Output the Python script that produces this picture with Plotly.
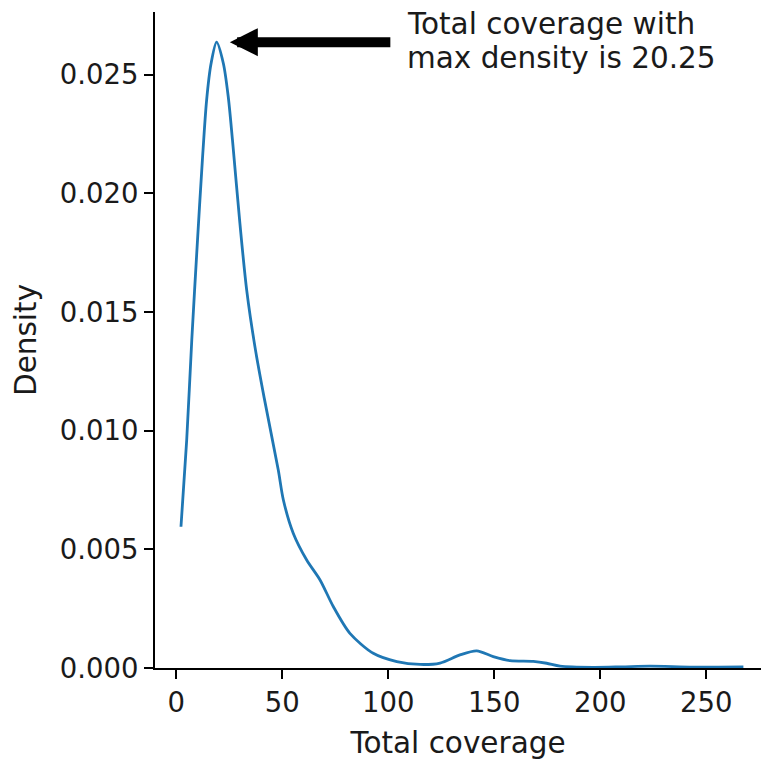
import plotly.graph_objects as go

# KDE curve
coverage = [2.2, 4.9, 7.3, 10.0, 12.3, 14.3, 16.4, 19.0, 22.2, 24.5, 26.5, 30.0,
            33.2, 37.1, 41.5, 48.1, 50.5, 55.2, 61.5, 67.8, 74.1, 81.9, 92.9,
            104.0, 115.0, 124.4, 133.8, 141.7, 149.5, 157.4, 168.4, 174.7, 181.0,
            196.6, 210.0, 223.5, 243.7, 267.5]
density = [0.00595, 0.00960, 0.01382, 0.01803, 0.02140, 0.02393, 0.02547, 0.02637,
           0.02547, 0.02407, 0.02224, 0.01873, 0.01592, 0.01353, 0.01136, 0.00834,
           0.00708, 0.00567, 0.00455, 0.00371, 0.00258, 0.00146, 0.00062, 0.00027,
           0.00015, 0.00021, 0.00055, 0.00072, 0.00048, 0.00031, 0.00028, 0.00020,
           0.00008, 0.00003, 0.00005, 0.00008, 0.00004, 0.00005]

x_ticks = [0, 50, 100, 150, 200, 250]
y_ticks = [0.000, 0.005, 0.010, 0.015, 0.020, 0.025]
y_tick_labels = ["0.000", "0.005", "0.010", "0.015", "0.020", "0.025"]

peak_x = 20.25
peak_y = 0.02637
note_lines = ["Total coverage with", "max density is 20.25"]

FONT = "DejaVu Sans"
FS_TICK = 27.5
FS = 29.5
TXT = "#1a1a1a"

fig = go.Figure()
fig.add_trace(go.Scatter(
    x=coverage, y=density, mode="lines",
    line=dict(color="#1f77b4", width=2.8, shape="spline", smoothing=0.8),
    showlegend=False, hoverinfo="skip",
))

# arrow
fig.add_annotation(
    x=peak_x + 5.0, y=peak_y, xref="x", yref="y",
    text="", showarrow=True, ax=162, ay=0,
    arrowhead=2, arrowwidth=10, arrowsize=0.56, arrowcolor="black",
)
# note text (two lines)
fig.add_annotation(x=108.0, y=0.02713, xref="x", yref="y", text=note_lines[0],
                   showarrow=False, xanchor="left", yanchor="middle",
                   font=dict(family=FONT, size=FS, color=TXT))
fig.add_annotation(x=108.0, y=0.02572, xref="x", yref="y", text=note_lines[1],
                   showarrow=False, xanchor="left", yanchor="middle",
                   font=dict(family=FONT, size=FS, color=TXT))

axis_common = dict(
    showgrid=False, zeroline=False, showline=True, linecolor="black", linewidth=2,
    ticks="outside", ticklen=9, tickwidth=2, tickcolor="black",
    tickfont=dict(family=FONT, size=FS_TICK, color=TXT),
)

fig.update_xaxes(
    range=[-10.05, 275.8], tickvals=x_ticks, ticktext=[str(v) for v in x_ticks],
    title=dict(text="Total coverage", font=dict(family=FONT, size=FS, color=TXT),
               standoff=15),
    **axis_common,
)
fig.update_yaxes(
    range=[0, 0.02764], tickvals=y_ticks, ticktext=y_tick_labels,
    title=dict(text="Density", font=dict(family=FONT, size=FS, color=TXT),
               standoff=14),
    **axis_common,
)

fig.update_layout(
    width=761, height=760,
    margin=dict(l=155, r=0, t=12, b=92, autoexpand=False),
    paper_bgcolor="white", plot_bgcolor="white",
    font=dict(family=FONT, size=FS, color=TXT),
)

fig.write_html("out.html", config={"displayModeBar": False},
               post_script="document.body.style.margin='0';document.body.style.overflow='hidden';")
